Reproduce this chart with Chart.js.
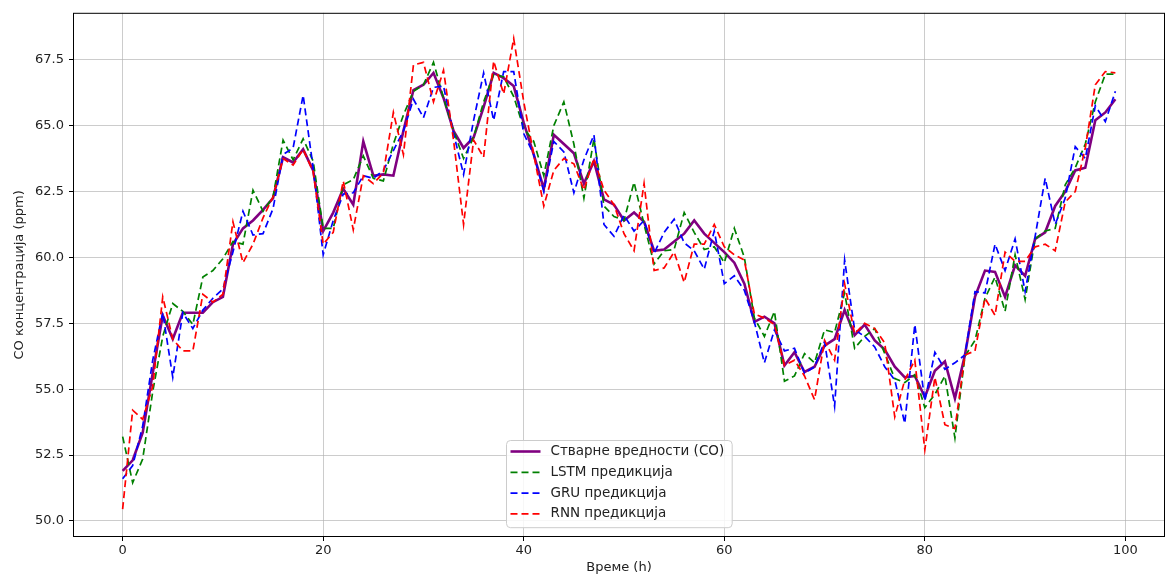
<!DOCTYPE html>
<html lang="sr">
<head>
    <meta charset="UTF-8">
    <script src="https://cdn.jsdelivr.net/npm/chart.js"></script>
    <title>CO предикција</title>
    <style>
        html, body { margin: 0; padding: 0; background: #fff; }
        #wrap { width: 1167px; height: 576px; }
    </style>
</head>
<body>
<div id="wrap"><canvas id="myChart" width="1167" height="576"></canvas></div>
<script>
    // vrednosti ocitane sa slike (sat 0..99)
    const actualCO = [51.9, 52.3, 53.35, 55.6, 57.8, 56.9, 57.9, 57.9, 57.9, 58.3,
        58.5, 60.5, 61.1, 61.4, 61.8, 62.25, 63.8, 63.6, 64.1, 63.3,
        61.0, 61.7, 62.6, 62.0, 64.4, 63.1, 63.15, 63.1, 64.8, 66.35,
        66.55, 67.0, 66.05, 64.8, 64.15, 64.55, 65.7, 67.0, 66.8, 66.5,
        65.1, 63.9, 62.6, 64.65, 64.3, 63.95, 62.8, 63.65, 62.2, 62.0,
        61.4, 61.7, 61.35, 60.25, 60.3, 60.6, 60.9, 61.4, 60.9, 60.55,
        60.2, 59.8, 59.0, 57.55, 57.75, 57.5, 55.9, 56.4, 55.65, 55.85,
        56.65, 56.9, 58.0, 57.05, 57.45, 56.85, 56.5, 55.85, 55.45, 55.5,
        54.7, 55.7, 56.05, 54.65, 56.3, 58.5, 59.5, 59.45, 58.5, 59.7,
        59.3, 60.7, 60.95, 61.95, 62.5, 63.3, 63.4, 65.2, 65.5, 66.0];

    const lstmPred = [53.2, 51.45, 52.35, 54.9, 57.0, 58.25, 57.95, 57.45, 59.25, 59.5,
        59.95, 60.6, 60.5, 62.55, 61.75, 62.3, 64.45, 63.7, 64.5, 63.65,
        61.1, 61.1, 62.75, 62.95, 63.85, 63.0, 62.9, 64.3, 65.4, 66.3,
        66.55, 67.4, 66.05, 64.8, 63.75, 64.55, 65.9, 66.95, 66.85, 66.1,
        64.9, 64.4, 63.1, 65.0, 65.9, 64.3, 62.25, 64.5, 61.95, 61.55,
        61.4, 62.85, 61.25, 59.75, 60.25, 60.3, 61.7, 60.95, 60.3, 60.4,
        59.8, 61.1, 60.0, 57.7, 57.0, 57.95, 55.3, 55.5, 56.35, 56.0,
        57.25, 57.15, 58.65, 56.55, 57.0, 57.3, 56.35, 55.4, 55.25, 55.55,
        54.3, 54.8, 55.5, 53.15, 56.25, 56.85, 58.45, 59.25, 57.95, 60.1,
        58.4, 60.7, 61.0, 61.1, 62.75, 63.4, 64.3, 65.9, 66.95, 66.95];

    const gruPred = [51.6, 52.1, 53.6, 56.1, 57.9, 55.45, 57.9, 57.3, 58.0, 58.45,
        58.8, 60.2, 61.75, 60.85, 60.9, 61.85, 63.9, 64.15, 66.15, 63.4,
        60.1, 61.4, 62.4, 62.45, 63.1, 63.0, 63.3, 64.05, 64.8, 66.0,
        65.3, 66.45, 66.5, 64.7, 63.15, 65.2, 67.0, 65.2, 67.05, 67.05,
        64.7, 63.9, 62.5, 64.4, 64.0, 62.45, 63.7, 64.65, 61.25, 60.8,
        61.6, 61.0, 61.4, 60.15, 60.95, 61.45, 60.55, 60.25, 59.55, 61.0,
        59.0, 59.3, 58.75, 57.55, 56.0, 57.25, 56.45, 56.55, 55.6, 55.85,
        56.8, 54.35, 59.9, 57.25, 57.0, 56.6, 55.85, 55.35, 53.7, 57.45,
        54.55, 56.4, 55.75, 56.0, 56.3, 58.7, 58.65, 60.5, 59.5, 60.7,
        58.7, 60.8, 63.0, 61.25, 62.25, 64.2, 63.75, 65.75, 65.15, 66.3];

    const rnnPred = [50.45, 54.2, 53.85, 55.1, 58.5, 56.9, 56.45, 56.45, 58.6, 58.3,
        58.6, 61.35, 59.8, 60.5, 61.5, 62.3, 63.75, 63.5, 64.1, 63.25,
        60.5, 60.95, 62.9, 61.05, 63.1, 62.8, 63.2, 65.5, 63.9, 67.3,
        67.4, 65.9, 67.1, 64.45, 61.25, 64.45, 63.8, 67.45, 66.2, 68.3,
        65.9, 63.9, 61.95, 63.3, 63.75, 63.55, 62.55, 63.75, 62.55, 62.0,
        60.9, 60.25, 62.8, 59.5, 59.6, 60.2, 59.05, 60.5, 60.5, 61.25,
        60.4, 60.1, 59.9, 57.85, 57.7, 57.45, 55.9, 56.1, 55.5, 54.6,
        56.85, 56.1, 59.0, 57.1, 57.5, 57.3, 56.75, 53.95, 55.35, 56.1,
        52.7, 55.45, 53.65, 53.5, 56.3, 56.45, 58.45, 57.8, 60.2, 59.85,
        59.85, 60.4, 60.5, 60.25, 62.1, 62.5, 64.15, 66.55, 67.05, 67.0];

    const xTicks = [0, 20, 40, 60, 80, 100];
    const yTicks = [50.0, 52.5, 55.0, 57.5, 60.0, 62.5, 65.0, 67.5];

    const seriesNames = ["Стварне вредности (CO)", "LSTM предикција", "GRU предикција", "RNN предикција"];
    const seriesColors = ["#800080", "#008000", "#0000ff", "#ff0000"];

    const FONT = "'DejaVu Sans', sans-serif";

    function toPoints(arr) {
        return arr.map(function(v, i) { return { x: i, y: v }; });
    }

    // okvir oko grafika (sva cetiri ruba)
    const framePlugin = {
        id: "frame",
        afterDatasetsDraw: function(chart) {
            const a = chart.chartArea;
            const ctx = chart.ctx;
            ctx.save();
            ctx.strokeStyle = "#000";
            ctx.lineWidth = 1;
            ctx.strokeRect(a.left + 0.5, a.top + 0.5, a.right - a.left - 1, a.bottom - a.top - 1);
            ctx.restore();
        }
    };

    // legenda kao u matplotlib-u (lower center)
    const legendPlugin = {
        id: "mplLegend",
        afterDraw: function(chart) {
            const a = chart.chartArea;
            const ctx = chart.ctx;
            ctx.save();
            ctx.font = "13.5px " + FONT;
            let textW = 0;
            chart.data.datasets.forEach(function(ds) {
                textW = Math.max(textW, ctx.measureText(ds.label).width);
            });
            const rowH = 20.8;
            const boxW = 4 + 30 + 10 + textW + 8;
            const boxH = rowH * 4 + 4;
            const x0 = Math.round((a.left + a.right) / 2 - boxW / 2) + 0.5;
            const y0 = Math.round(a.bottom - 10 - boxH) + 0.5;

            ctx.beginPath();
            if (ctx.roundRect) ctx.roundRect(x0, y0, boxW, boxH, 4);
            else ctx.rect(x0, y0, boxW, boxH);
            ctx.fillStyle = "rgba(255,255,255,0.85)";
            ctx.fill();
            ctx.strokeStyle = "#cccccc";
            ctx.lineWidth = 1;
            ctx.stroke();

            chart.data.datasets.forEach(function(ds, i) {
                const cy = y0 + 11 + i * rowH;
                ctx.beginPath();
                ctx.setLineDash(ds.borderDash || []);
                ctx.strokeStyle = ds.borderColor;
                ctx.lineWidth = ds.borderWidth;
                ctx.moveTo(x0 + 4, cy);
                ctx.lineTo(x0 + 34, cy);
                ctx.stroke();
                ctx.setLineDash([]);
                ctx.fillStyle = "#222";
                ctx.textBaseline = "middle";
                ctx.textAlign = "left";
                ctx.fillText(ds.label, x0 + 44, cy);
            });
            ctx.restore();
        }
    };

    const dashed = [7, 4];

    new Chart("myChart", {
        type: "line",
        data: {
            datasets: [
                { label: seriesNames[0], data: toPoints(actualCO), borderColor: seriesColors[0], borderWidth: 2.6, order: 4 },
                { label: seriesNames[1], data: toPoints(lstmPred), borderColor: seriesColors[1], borderWidth: 1.7, borderDash: dashed, order: 3 },
                { label: seriesNames[2], data: toPoints(gruPred), borderColor: seriesColors[2], borderWidth: 1.7, borderDash: dashed, order: 2 },
                { label: seriesNames[3], data: toPoints(rnnPred), borderColor: seriesColors[3], borderWidth: 1.7, borderDash: dashed, order: 1 }
            ]
        },
        options: {
            responsive: false,
            animation: false,
            events: [],
            elements: {
                point: { radius: 0 },
                line: { tension: 0, fill: false, borderCapStyle: "butt" }
            },
            layout: { padding: { top: 12, right: 2, left: 0, bottom: 0 } },
            plugins: {
                legend: { display: false },
                tooltip: { enabled: false }
            },
            scales: {
                x: {
                    type: "linear",
                    min: -4.95,
                    max: 103.95,
                    afterBuildTicks: function(scale) {
                        scale.ticks = xTicks.map(function(v) { return { value: v }; });
                    },
                    afterFit: function(scale) { scale.height = 39; },
                    grid: { color: "rgba(176,176,176,0.65)", lineWidth: 1, tickLength: 4, tickColor: "#000" },
                    border: { display: false },
                    ticks: {
                        color: "#222",
                        font: { family: FONT, size: 13 },
                        padding: 2,
                        maxRotation: 0,
                        callback: function(v) { return String(v); }
                    },
                    title: {
                        display: true,
                        text: "Време (h)",
                        color: "#222",
                        font: { family: FONT, size: 13 },
                        padding: { top: 0, bottom: 1 }
                    }
                },
                y: {
                    type: "linear",
                    min: 49.39,
                    max: 69.28,
                    afterBuildTicks: function(scale) {
                        scale.ticks = yTicks.map(function(v) { return { value: v }; });
                    },
                    afterFit: function(scale) { scale.width = 73; },
                    grid: { color: "rgba(176,176,176,0.65)", lineWidth: 1, tickLength: 4, tickColor: "#000" },
                    border: { display: false },
                    ticks: {
                        color: "#222",
                        font: { family: FONT, size: 13 },
                        padding: 5,
                        callback: function(v) { return v.toFixed(1); }
                    },
                    title: {
                        display: true,
                        text: "CO концентрација (ppm)",
                        color: "#222",
                        font: { family: FONT, size: 13 },
                        padding: { top: 12, bottom: 0 }
                    }
                }
            }
        },
        plugins: [framePlugin, legendPlugin]
    });
</script>
</body>
</html>
